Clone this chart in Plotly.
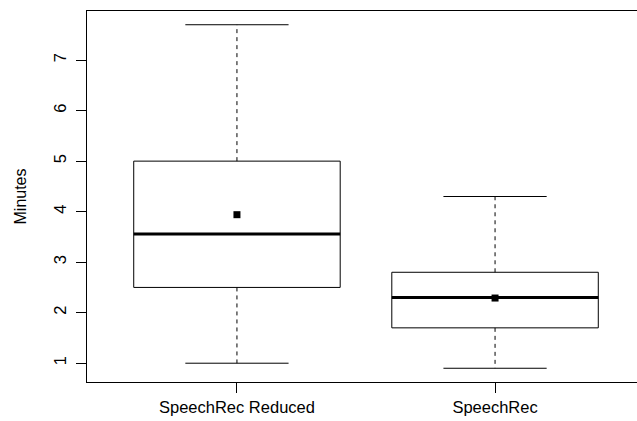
import plotly.graph_objects as go

categories = ["SpeechRec Reduced", "SpeechRec"]
lower_whisker = [1.0, 0.9]
q1 = [2.5, 1.7]
median = [3.56, 2.3]
q3 = [5.0, 2.8]
upper_whisker = [7.7, 4.3]
means = [3.94, 2.29]
y_ticks = [1, 2, 3, 4, 5, 6, 7]

BOX_HALF = 0.4
CAP_HALF = 0.2
pos = [i + 1 for i in range(len(categories))]

box_x, box_y = [], []
wh_x, wh_y = [], []
cap_x, cap_y = [], []
med_x, med_y = [], []
for p, lo, a, m, b, hi in zip(pos, lower_whisker, q1, median, q3, upper_whisker):
    box_x += [p - BOX_HALF, p + BOX_HALF, p + BOX_HALF, p - BOX_HALF, p - BOX_HALF, None]
    box_y += [a, a, b, b, a, None]
    wh_x += [p, p, None, p, p, None]
    wh_y += [b, hi, None, a, lo, None]
    cap_x += [p - CAP_HALF, p + CAP_HALF, None, p - CAP_HALF, p + CAP_HALF, None]
    cap_y += [hi, hi, None, lo, lo, None]
    med_x += [p - BOX_HALF, p + BOX_HALF, None]
    med_y += [m, m, None]

fig = go.Figure()
fig.add_trace(go.Scatter(x=wh_x, y=wh_y, mode="lines",
                         line=dict(color="black", width=1, dash="4px,4px"), hoverinfo="skip"))
fig.add_trace(go.Scatter(x=cap_x, y=cap_y, mode="lines",
                         line=dict(color="black", width=1), hoverinfo="skip"))
fig.add_trace(go.Scatter(x=box_x, y=box_y, mode="lines",
                         line=dict(color="black", width=1), hoverinfo="skip"))
fig.add_trace(go.Scatter(x=med_x, y=med_y, mode="lines",
                         line=dict(color="black", width=3), hoverinfo="skip"))
fig.add_trace(go.Scatter(x=pos, y=means, mode="markers",
                         marker=dict(symbol="square", size=7, color="black",
                                     line=dict(width=0))))

fig.update_layout(
    width=637, height=421,
    margin=dict(l=87, r=0, t=11, b=39),
    plot_bgcolor="white", paper_bgcolor="white",
    showlegend=False,
    font=dict(family="Liberation Sans, Arial, sans-serif", size=16.5, color="black"),
)
fig.update_xaxes(
    range=[0.419, 2.55], tickvals=pos, ticktext=categories,
    showgrid=False, zeroline=False, showline=True, linecolor="black", linewidth=1,
    mirror=True, ticks="outside", ticklen=10, tickcolor="black", tickwidth=1,
)
fig.update_yaxes(
    range=[0.628, 7.972], tickvals=y_ticks, tickangle=-90, ticklabelstandoff=3,
    showgrid=False, zeroline=False, showline=True, linecolor="black", linewidth=1,
    ticks="outside", ticklen=10, tickcolor="black", tickwidth=1,
    title=dict(text="Minutes", standoff=20,
               font=dict(size=16, family="Liberation Sans, Arial, sans-serif", color="black")),
)

fig.write_html("out.html")
